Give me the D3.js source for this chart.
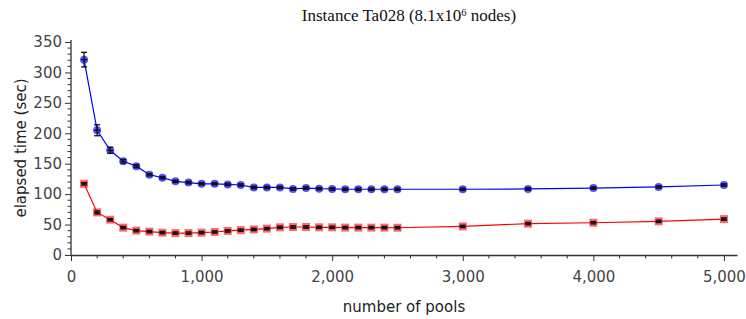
<!DOCTYPE html>
<html><head><meta charset="utf-8">
<script src="https://cdn.jsdelivr.net/npm/d3@7"></script>
<style>body{margin:0;background:#fff}svg{display:block}</style>
</head><body>
<svg id="c" width="746" height="319"></svg>
<script>
const pools = [100,200,300,400,500,600,700,800,900,1000,1100,1200,1300,1400,1500,1600,1700,1800,1900,2000,2100,2200,2300,2400,2500,3000,3500,4000,4500,5000];
const blueTime = [321,205,172,154,146,132,127,121,119,117,117,116,115,111,111,111,108.5,110,109,108.5,108,108,108,108,108,108,108.5,110,111.8,115];
const blueErr  = [12,9,5,3,2.5,2,2,2,2,2,2,2,2,2,2,2,2,2,2,2,2,2,2,2,2,2,2,2,2,2];
const redTime  = [117,70,58,45,40,38.4,36.7,36,36,36.7,37.8,39.5,40.8,42,43.3,45.5,46,46,45.5,45.5,45,45,45,45,44.8,47,51.5,53,55.3,59];
const redErr   = [2,2.5,2,2,2,2,2,2,2,2,2,2,2,2,2,2,2,2,2,2,2,2,2,2,2,2,2,2,2,2];
const xTicks = [0,1000,2000,3000,4000,5000];
const yTicks = [0,50,100,150,200,250,300,350];

const svg = d3.select("#c");
const x = d3.scaleLinear().domain([0,5100]).range([71,737]);
const y = d3.scaleLinear().domain([0,350]).range([255,42]);
const axisCol = "#333";
const txtCol = "#444";
const font = "'DejaVu Sans', sans-serif";

// minor ticks
const gx = svg.append("g");
gx.selectAll("line.mn").data(d3.range(200,5100,200).filter(v=>v%1000!==0)).join("line")
  .attr("x1",d=>x(d)).attr("x2",d=>x(d)).attr("y1",255).attr("y2",258.5).attr("stroke",axisCol);
const gy = svg.append("g");
gy.selectAll("line.mn").data(d3.range(10,351,10).filter(v=>v%50!==0)).join("line")
  .attr("x1",71).attr("x2",67.5).attr("y1",d=>y(d)).attr("y2",d=>y(d)).attr("stroke",axisCol);

const xAxis = d3.axisBottom(x).tickValues(xTicks).tickFormat(d3.format(",")).tickSize(6).tickSizeOuter(0).tickPadding(10);
const xg = svg.append("g").attr("transform","translate(0,255)").call(xAxis);
const yAxis = d3.axisLeft(y).tickValues(yTicks).tickSize(6).tickSizeOuter(0).tickPadding(3);
const yg = svg.append("g").attr("transform","translate(71,0)").call(yAxis);
[xg,yg].forEach(g=>{
  g.select(".domain").attr("stroke",axisCol).attr("stroke-width",1.3);
  g.selectAll(".tick line").attr("stroke",axisCol);
  g.selectAll(".tick text").attr("fill",txtCol).style("font-family",font).style("font-size","15px");
});
yg.select(".domain").attr("d","M0,255V40");

// axis titles
svg.append("text").attr("x",404).attr("y",312).attr("text-anchor","middle")
  .attr("fill","#222").style("font-family",font).style("font-size","15px").text("number of pools");
svg.append("text").attr("transform","translate(26,148) rotate(-90)").attr("text-anchor","middle")
  .attr("fill","#222").style("font-family",font).style("font-size","15px").text("elapsed time (sec)");

// title
const t = svg.append("text").attr("x",409).attr("y",21).attr("text-anchor","middle")
  .attr("fill","#111").style("font-family","'Liberation Serif', serif").style("font-size","17px");
t.append("tspan").text("Instance Ta028 (8.1x10");
t.append("tspan").attr("dy",-5).style("font-size","10.5px").text("6");
t.append("tspan").attr("dy",5).text(" nodes)");

function series(vals, errs, color, fill, shape){
  const pts = pools.map((p,i)=>({x:p,y:vals[i],e:errs[i]}));
  const line = d3.line().x(d=>x(d.x)).y(d=>y(d.y));
  svg.append("path").datum(pts).attr("d",line).attr("fill","none").attr("stroke",color).attr("stroke-width",1.2);
  const g = svg.append("g");
  if(shape==="circle"){
    g.selectAll("circle").data(pts).join("circle").attr("cx",d=>x(d.x)).attr("cy",d=>y(d.y)).attr("r",4)
      .attr("fill",fill).attr("fill-opacity",0.75);
  } else {
    g.selectAll("rect").data(pts).join("rect").attr("x",d=>x(d.x)-4).attr("y",d=>y(d.y)-4).attr("width",8).attr("height",8)
      .attr("fill",fill).attr("fill-opacity",0.7);
  }
  const eg = svg.append("g").attr("stroke","#111").attr("stroke-width",1.3);
  eg.selectAll("line.v").data(pts).join("line").attr("x1",d=>x(d.x)).attr("x2",d=>x(d.x))
    .attr("y1",d=>y(d.y+d.e)).attr("y2",d=>y(d.y-d.e));
  eg.selectAll("line.t").data(pts).join("line").attr("x1",d=>x(d.x)-3).attr("x2",d=>x(d.x)+3)
    .attr("y1",d=>y(d.y+d.e)).attr("y2",d=>y(d.y+d.e));
  eg.selectAll("line.b").data(pts).join("line").attr("x1",d=>x(d.x)-3).attr("x2",d=>x(d.x)+3)
    .attr("y1",d=>y(d.y-d.e)).attr("y2",d=>y(d.y-d.e));
  eg.selectAll("line.h").data(pts).join("line").attr("x1",d=>x(d.x)-3).attr("x2",d=>x(d.x)+3)
    .attr("y1",d=>y(d.y)).attr("y2",d=>y(d.y));
}
series(blueTime, blueErr, "#0000ff", "#1a1aff", "circle");
series(redTime, redErr, "#ff0000", "#ff2a2a", "square");
</script>
</body></html>
